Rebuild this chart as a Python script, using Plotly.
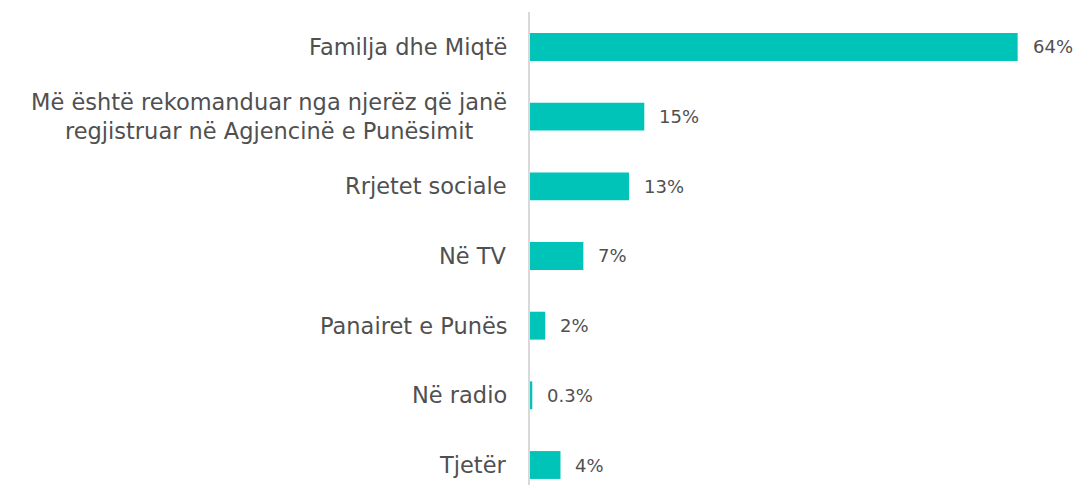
import plotly.graph_objects as go

categories = [
    "Familja dhe Miqtë",
    "Më është rekomanduar nga njerëz që janë<br>regjistruar në Agjencinë e Punësimit",
    "Rrjetet sociale",
    "Në TV",
    "Panairet e Punës",
    "Në radio",
    "Tjetër",
]
values = [64, 15, 13, 7, 2, 0.3, 4]
value_labels = ["64%", "15%", "13%", "7%", "2%", "0.3%", "4%"]

BAR_COLOR = "#00C4B8"
TEXT_COLOR = "#505050"
FONT = "DejaVu Sans"

ypos = list(range(len(categories)))

fig = go.Figure()
fig.add_trace(go.Bar(
    x=values, y=ypos, orientation="h",
    marker=dict(color=BAR_COLOR, line=dict(width=0)),
    width=0.4,
    hoverinfo="skip",
))

for i, (v, t) in enumerate(zip(values, value_labels)):
    fig.add_annotation(
        x=v, y=i, xref="x", yref="y", text=t, showarrow=False,
        xanchor="left", yanchor="middle", xshift=13,
        font=dict(family=FONT, size=18, color=TEXT_COLOR),
    )

for i, c in enumerate(categories):
    fig.add_annotation(
        x=0, y=i, xref="x", yref="y", text=c, showarrow=False,
        xanchor="right", yanchor="middle", xshift=-21, align="center",
        font=dict(family=FONT, size=22.5, color=TEXT_COLOR),
    )

fig.update_layout(
    width=1065, height=477,
    margin=dict(l=522, r=2, t=4, b=0),
    plot_bgcolor="white", paper_bgcolor="white",
    showlegend=False,
    font=dict(family=FONT, size=18, color=TEXT_COLOR),
    xaxis=dict(range=[0, 71.0], showgrid=False, zeroline=False,
               showticklabels=False, showline=False, fixedrange=True),
    yaxis=dict(range=[6.287, -0.502], showgrid=False, zeroline=False,
               showticklabels=False,
               showline=True, linecolor="#D9D9D9", linewidth=2),
)

fig.write_html("out.html")
